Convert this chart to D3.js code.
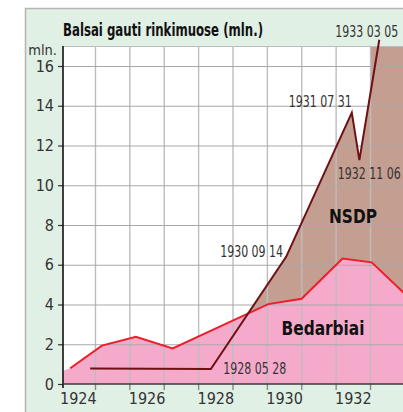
<!DOCTYPE html>
<html lang="lt">
<head>
<meta charset="utf-8">
<title>Balsai gauti rinkimuose</title>
<script src="https://d3js.org/d3.v7.min.js"></script>
<style>
  body { margin: 0; background: #fff; }
  svg text { font-family: "Liberation Sans Narrow", "DejaVu Sans Condensed", sans-serif; }
</style>
</head>
<body>
<script>
// Duomenys (metai kaip trupmena)
var nsdpDates = [1924.86, 1928.37, 1930.56, 1932.47, 1932.69, 1933.27];
var nsdpVotes = [0.78, 0.75, 6.4, 13.65, 11.26, 17.32];
var nsdpLabels = ["", "1928 05 28", "1930 09 14", "1931 07 31", "1932 11 06", "1933 03 05"];

var unempDates = [1924.0, 1924.28, 1925.2, 1926.19, 1927.26, 1930.04, 1931.01, 1932.2, 1933.05, 1934.0];
var unempValues = [0.62, 0.79, 1.93, 2.38, 1.79, 4.02, 4.29, 6.31, 6.12, 4.55];

// spalvinto ploto kraštas 1933 m. pradžioje
var nsdpFillDates = [1933.0, 1933.0, 1934.0];
var nsdpFillValues = [14.5, 18, 18];

var yTicks = [0, 2, 4, 6, 8, 10, 12, 14, 16];
var yearLines = [1925, 1926, 1927, 1928, 1929, 1930, 1931, 1932, 1933];
var yearLabels = [1924, 1926, 1928, 1930, 1932];

var w = 403, h = 412;
var pLeft = 63, pTop = 46, pBottom = 384, pRight = 410;

var svg = d3.select("body").append("svg")
    .attr("width", w)
    .attr("height", h);

var x = d3.scaleLinear().domain([1924, 1934]).range([60.6, 404.4]);
var y = d3.scaleLinear().domain([0, 16]).range([pBottom, 66]);

// žalias fonas
svg.append("rect")
    .attr("x", 26).attr("y", 9)
    .attr("width", w).attr("height", h)
    .attr("fill", "#e1f0e5");
svg.append("path")
    .attr("d", "M25.5," + h + "V8.5H" + w)
    .attr("fill", "none")
    .attr("stroke", "#b4b4b4")
    .attr("stroke-width", 1.5);

// balta grafiko sritis
svg.append("rect")
    .attr("x", pLeft).attr("y", pTop)
    .attr("width", pRight - pLeft).attr("height", pBottom - pTop)
    .attr("fill", "#fff");

svg.append("clipPath").attr("id", "plot")
  .append("rect")
    .attr("x", pLeft).attr("y", pTop)
    .attr("width", pRight - pLeft).attr("height", pBottom - pTop);

var nsdp = nsdpDates.map(function(d, i) { return {x: d, v: nsdpVotes[i], label: nsdpLabels[i]}; });
var unemp = unempDates.map(function(d, i) { return {x: d, v: unempValues[i]}; });
var nsdpFill = nsdp.slice(0, 5).concat(nsdpFillDates.map(function(d, i) { return {x: d, v: nsdpFillValues[i]}; }));

var area = d3.area()
    .x(function(d) { return x(d.x); })
    .y0(y(0))
    .y1(function(d) { return y(d.v); });
var line = d3.line()
    .x(function(d) { return x(d.x); })
    .y(function(d) { return y(d.v); });

var fills = svg.append("g").attr("clip-path", "url(#plot)");
fills.append("path")
    .datum(nsdpFill)
    .attr("d", area)
    .attr("fill", "#c49f91");
fills.append("path")
    .datum(unemp)
    .attr("d", area)
    .attr("fill", "#f5aacb");

// tinklelis
svg.append("g")
    .attr("transform", "translate(0," + pBottom + ")")
    .call(d3.axisBottom(x).tickValues(yearLines).tickSize(-(pBottom - pTop)).tickFormat(""))
    .call(function(g) {
        g.select(".domain").remove();
        g.selectAll("line").attr("stroke", "#bdbdbd").attr("stroke-width", 1.4);
    });
svg.append("g")
    .attr("transform", "translate(" + pLeft + ",0)")
    .call(d3.axisRight(y).tickValues(yTicks.slice(1)).tickSize(pRight - pLeft).tickFormat(""))
    .call(function(g) {
        g.select(".domain").remove();
        g.selectAll("line").attr("stroke", "#a8a8a8").attr("stroke-width", 1.1);
    });
svg.append("line")
    .attr("x1", pLeft).attr("x2", pRight)
    .attr("y1", pTop + 0.5).attr("y2", pTop + 0.5)
    .attr("stroke", "#bdbdbd").attr("stroke-width", 1.2);

// linijos
svg.append("path")
    .datum(unemp.slice(1))
    .attr("d", line)
    .attr("fill", "none")
    .attr("stroke", "#ee1d2a")
    .attr("stroke-width", 2);
svg.append("path")
    .datum(nsdp)
    .attr("d", line)
    .attr("fill", "none")
    .attr("stroke", "#6e1014")
    .attr("stroke-width", 2);

// ašys
var yAxis = svg.append("g")
    .attr("transform", "translate(" + pLeft + ",0)")
    .call(d3.axisLeft(y).tickValues(yTicks).tickSize(5).tickPadding(4));
yAxis.select(".domain").remove();
yAxis.selectAll("line").attr("stroke", "#333").attr("stroke-width", 1.2);
yAxis.attr("font-family", null).attr("font-size", null);
yAxis.selectAll("text")
    .attr("font-size", 16)
    .attr("fill", "#333");
svg.append("line")
    .attr("x1", pLeft).attr("x2", pLeft)
    .attr("y1", pTop).attr("y2", pBottom + 4)
    .attr("stroke", "#111").attr("stroke-width", 1.6);

var xTicks = svg.append("g")
    .attr("transform", "translate(0," + pBottom + ")")
    .call(d3.axisBottom(x).tickValues(yearLines).tickSize(6).tickFormat(""));
xTicks.select(".domain").remove();
xTicks.selectAll("line").attr("stroke", "#888").attr("stroke-width", 1.4);

var xLabels = svg.append("g")
    .attr("transform", "translate(0," + pBottom + ")")
    .call(d3.axisBottom(x)
        .tickValues(yearLabels.map(function(d) { return d + 0.5; }))
        .tickSize(0).tickPadding(9)
        .tickFormat(function(d) { return Math.floor(d); }));
xLabels.select(".domain").remove();
xLabels.attr("font-family", null).attr("font-size", null);
xLabels.selectAll("text").attr("font-size", 16).attr("fill", "#333");

svg.append("line")
    .attr("x1", pLeft).attr("x2", pRight)
    .attr("y1", pBottom).attr("y2", pBottom)
    .attr("stroke", "#3a3a3a").attr("stroke-width", 1.6);

// užrašai
svg.append("text")
    .attr("x", 63).attr("y", 36)
    .attr("font-size", 17).attr("font-weight", "bold")
    .attr("fill", "#111")
    .attr("textLength", 200).attr("lengthAdjust", "spacingAndGlyphs")
    .text("Balsai gauti rinkimuose (mln.)");

svg.append("text")
    .attr("x", 57).attr("y", 55)
    .attr("text-anchor", "end")
    .attr("font-size", 14.5).attr("fill", "#333")
    .text("mln.");

// datų užrašų vieta (dx, dy, lygiavimas)
var labelPlace = {
    "1928 05 28": [12.5, 5, "start"],
    "1930 09 14": [-3, 0, "end"],
    "1931 07 31": [0, -6, "end"],
    "1932 11 06": [-21.5, 19, "start"],
    "1933 03 05": [19, -3, "end"]
};
svg.append("g").selectAll("text")
    .data(nsdp.filter(function(d) { return d.label; }))
    .enter()
    .append("text")
    .attr("x", function(d) { return x(d.x) + labelPlace[d.label][0]; })
    .attr("y", function(d) { return y(d.v) + labelPlace[d.label][1]; })
    .attr("text-anchor", function(d) { return labelPlace[d.label][2]; })
    .attr("font-size", 15.5)
    .attr("fill", "#333")
    .attr("textLength", 63).attr("lengthAdjust", "spacingAndGlyphs")
    .text(function(d) { return d.label; });

svg.append("text")
    .attr("x", 353).attr("y", 223)
    .attr("text-anchor", "middle")
    .attr("font-size", 19).attr("font-weight", "bold")
    .attr("fill", "#111")
    .attr("textLength", 48).attr("lengthAdjust", "spacingAndGlyphs")
    .text("NSDP");
svg.append("text")
    .attr("x", 323).attr("y", 335)
    .attr("text-anchor", "middle")
    .attr("font-size", 19).attr("font-weight", "bold")
    .attr("fill", "#111")
    .attr("textLength", 83).attr("lengthAdjust", "spacingAndGlyphs")
    .text("Bedarbiai");
</script>
</body>
</html>
